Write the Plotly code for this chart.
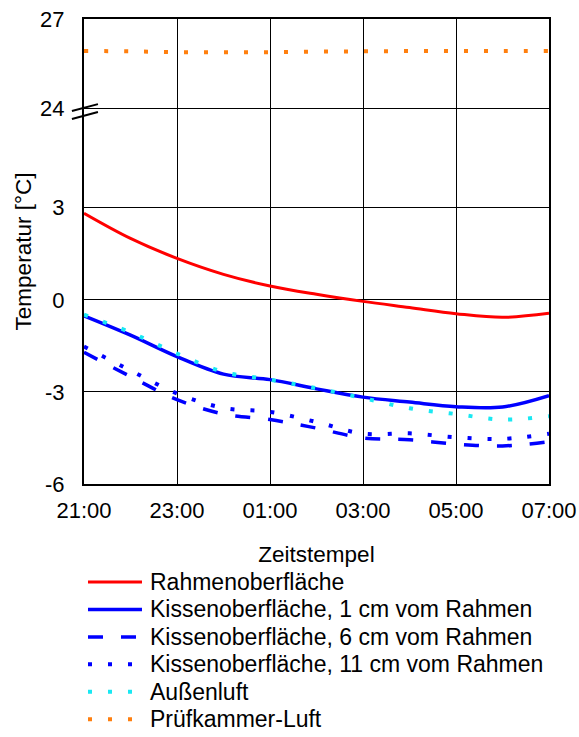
import plotly.graph_objects as go
from datetime import datetime, timedelta

# ---- data ----
times = [datetime(2023, 1, 1, 21, 0) + timedelta(hours=i) for i in range(11)]
rahmen = [2.82, 2.0, 1.35, 0.83, 0.45, 0.18, -0.05, -0.25, -0.45, -0.57, -0.44]
kissen_1cm = [-0.52, -1.15, -1.85, -2.42, -2.6, -2.9, -3.17, -3.33, -3.48, -3.49, -3.12]
kissen_6cm = [-1.71, -2.5, -3.25, -3.72, -3.9, -4.18, -4.5, -4.56, -4.7, -4.76, -4.62]
kissen_11cm = [-1.52, -2.3, -3.05, -3.52, -3.65, -3.98, -4.36, -4.35, -4.48, -4.53, -4.36]
aussenluft = [-0.48, -1.06, -1.75, -2.35, -2.6, -2.88, -3.2, -3.53, -3.72, -3.9, -3.79]
pruefkammer = [25.92, 25.91, 25.88, 25.88, 25.88, 25.9, 25.91, 25.92, 25.92, 25.92, 25.92]

y_ticks = [-6, -3, 0, 3, 24, 27]
x_ticks = ["21:00", "23:00", "01:00", "03:00", "05:00", "07:00"]

# broken axis: values >= 24 are drawn in a compressed upper band
BREAK_HIGH, BAND_START, BAND_SCALE = 24, 6.25, 0.9667


def to_axis(v):
    if v >= BREAK_HIGH:
        return BAND_START + (v - BREAK_HIGH) * BAND_SCALE
    return v


FONT = "Arial, Liberation Sans, sans-serif"
fig = go.Figure()

series = [
    ("Rahmenoberfläche", rahmen, "#FF0000", "solid", 3),
    ("Kissenoberfläche, 1 cm vom Rahmen", kissen_1cm, "#0000FF", "solid", 3.5),
    ("Kissenoberfläche, 6 cm vom Rahmen", kissen_6cm, "#0000FF", "15px,18px", 3.5),
    ("Kissenoberfläche, 11 cm vom Rahmen", kissen_11cm, "#0000FF", "4px,16px", 4),
    ("Außenluft", aussenluft, "#19E8F2", "4px,16px", 4),
    ("Prüfkammer-Luft", pruefkammer, "#FF7F0E", "4px,16px", 4),
]
for name, vals, color, dash, w in series:
    fig.add_trace(go.Scatter(
        x=times, y=[to_axis(v) for v in vals], name=name, mode="lines",
        line=dict(color=color, dash=dash, width=w, shape="spline", smoothing=1.0),
        showlegend=False,
    ))

# custom legend below the plot (tight row spacing like the reference)
leg_y0, leg_step = -0.2108, -0.0590
for i, (name, vals, color, dash, w) in enumerate(series):
    yy = leg_y0 + i * leg_step
    fig.add_shape(type="line", xref="paper", yref="paper",
                  x0=0.0086, x1=0.1247, y0=yy, y1=yy,
                  line=dict(color=color, dash=dash, width=w))
    fig.add_annotation(xref="paper", yref="paper", x=0.1376, y=yy,
                       xanchor="left", yanchor="middle", showarrow=False,
                       text=name, font=dict(family=FONT, size=23, color="black"))

tick_x = [datetime(2023, 1, 1, 21, 0) + timedelta(hours=2 * i) for i in range(6)]
top = to_axis(27)

fig.update_layout(
    width=579, height=737,
    margin=dict(l=84, r=30, t=19, b=253, autoexpand=False),
    paper_bgcolor="white", plot_bgcolor="white",
    font=dict(family=FONT, size=22, color="black"),
    showlegend=False,
    xaxis=dict(
        range=[times[0], times[-1]], tickvals=tick_x, ticktext=x_ticks,
        showgrid=True, gridcolor="black", gridwidth=1.2,
        showline=True, linecolor="black", linewidth=2, mirror=True,
        ticks="", ticklabelstandoff=6, automargin=False,
        tickfont=dict(size=22),
        title=dict(text="Zeitstempel", font=dict(size=22.5), standoff=24),
        zeroline=False,
    ),
    yaxis=dict(
        range=[-6, top + 1e-6],
        tickvals=[to_axis(v) for v in y_ticks], ticktext=[str(v) for v in y_ticks],
        showgrid=True, gridcolor="black", gridwidth=1.2,
        showline=True, linecolor="black", linewidth=2, mirror=True,
        ticks="", ticklabelstandoff=13, automargin=False,
        tickfont=dict(size=22),
        title=dict(text="Temperatur [°C]", font=dict(size=22.5), standoff=2),
        zeroline=False,
    ),
)

# axis break marks
for y0, y1 in [(0.802, 0.817), (0.785, 0.800)]:
    fig.add_shape(type="line", xref="paper", yref="paper",
                  x0=-0.026, y0=y0, x1=0.030, y1=y1,
                  line=dict(color="black", width=2))

fig.write_html(
    "out.html",
    config={"displayModeBar": False},
    post_script="document.body.style.margin='0px';document.body.style.overflow='hidden';",
)
